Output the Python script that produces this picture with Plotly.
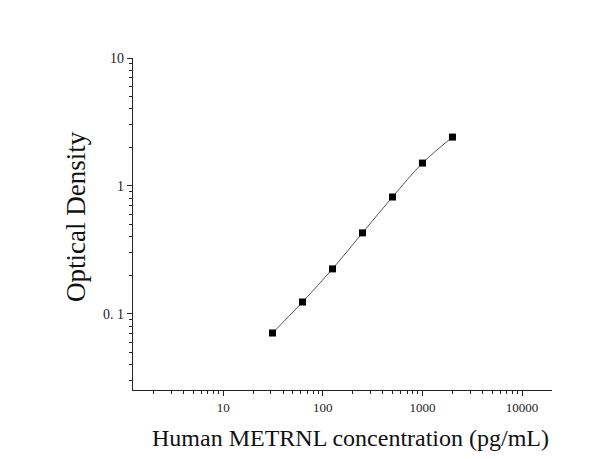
import plotly.graph_objects as go

conc = [31.25, 62.5, 125, 250, 500, 1000, 2000]
od = [0.071, 0.124, 0.225, 0.43, 0.82, 1.51, 2.41]

x_tickvals = [10, 100, 1000, 10000]
x_ticktext = ["10", "100", "1000", "10000"]
y_tickvals = [0.1, 1, 10]
y_ticktext = ["0. 1", "1", "10"]

x_decades = [1, 10, 100, 1000, 10000]
y_decades = [0.01, 0.1, 1]
x_minor = [d * k for d in x_decades for k in range(2, 10)]
y_minor = [d * k for d in y_decades for k in range(2, 10)]

fig = go.Figure()
fig.add_trace(go.Scatter(
    x=conc, y=od, mode="lines",
    line=dict(color="#555555", width=1, shape="spline", smoothing=1.0),
    showlegend=False, hoverinfo="skip"))
fig.add_trace(go.Scatter(
    x=conc, y=od, mode="markers",
    marker=dict(symbol="square", size=7, color="black"),
    showlegend=False))

font = "Liberation Serif, Times New Roman, serif"
fig.update_layout(
    width=608, height=459,
    margin=dict(l=133, r=56, t=58, b=69),
    paper_bgcolor="white", plot_bgcolor="white",
    font=dict(family=font, color="#111111"),
    xaxis=dict(
        type="log", range=[0.095, 4.3],
        tickvals=x_tickvals, ticktext=x_ticktext,
        ticks="outside", ticklen=5, tickwidth=1, tickcolor="#222",
        showline=True, linecolor="#222", linewidth=1.2,
        showgrid=False, zeroline=False,
        tickfont=dict(size=13, family=font, color="#222"),
        minor=dict(tickmode="array", tickvals=x_minor, ticks="outside",
                   ticklen=3, tickcolor="#222", showgrid=False),
    ),
    yaxis=dict(
        type="log", range=[-1.594, 1.0],
        tickvals=y_tickvals, ticktext=y_ticktext,
        ticks="outside", ticklen=5, tickwidth=1, tickcolor="#222",
        showline=True, linecolor="#222", linewidth=1.2,
        showgrid=False, zeroline=False,
        tickfont=dict(size=14, family=font, color="#222"),
        minor=dict(tickmode="array", tickvals=y_minor, ticks="outside",
                   ticklen=3, tickcolor="#222", showgrid=False),
    ),
    annotations=[
        dict(text="Human METRNL concentration (pg/mL)", xref="paper", yref="paper",
             x=0.518, y=-0.1446, xanchor="center", yanchor="middle", showarrow=False,
             font=dict(size=24, family=font, color="#111")),
        dict(text="Optical Density", xref="paper", yref="paper",
             x=-0.136, y=0.521, xanchor="center", yanchor="middle", showarrow=False,
             textangle=-90, font=dict(size=27, family=font, color="#111")),
    ],
)
fig.write_html("out.html")
